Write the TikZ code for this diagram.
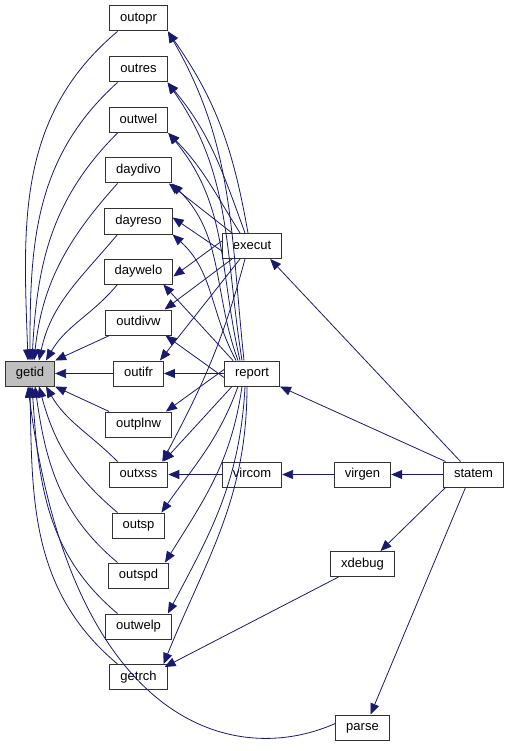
\documentclass[tikz,border=0pt]{standalone}
\usepackage{fontspec}
\setmainfont{Liberation Sans}
\usetikzlibrary{arrows.meta}
\definecolor{edgeblue}{HTML}{191970}

\begin{document}
\begin{tikzpicture}[x=1pt, y=-1pt,
    fn/.style={draw=black!80, line width=1pt, minimum height=25pt, inner xsep=10.5pt, text height=9.5pt, text depth=3pt, font=\fontsize{13}{15}\selectfont},
    call/.style={draw=edgeblue, line width=0.8pt, -{Triangle[length=11pt, width=9pt]}}]
    \useasboundingbox (0,0) rectangle (511,751);
    % Functions called by report
    \foreach \n/\y in {outopr/18.5, outres/69.5, outwel/120, daydivo/170.5, dayreso/221.5, daywelo/271.5, outdivw/322.5, outifr/373.5, outplnw/424.5, outxss/474.5, outsp/525.5, outspd/575.5, outwelp/626.5, getrch/677} {
        \node[fn] (\n) at (138.5,\y) {\n};
    }
    % Other functions
    \node[fn, fill=black!25] (getid) at (30,373.5) {getid};
    \node[fn] (execut) at (252,246) {execut};
    \node[fn] (report) at (252,373.5) {report};
    \node[fn] (vircom) at (252,474.5) {vircom};
    \node[fn] (virgen) at (362.5,474.5) {virgen};
    \node[fn] (statem) at (473.5,474.5) {statem};
    \node[fn] (xdebug) at (362.5,564) {xdebug};
    \node[fn] (parse) at (362.5,727.5) {parse};
    % Calls into getid
    \foreach \n/\dx/\o/\i in {outopr/-2/-140/92, outres/0/-138/90, outwel/2/-135/87, daydivo/4/-132/84, dayreso/9/-130/78, daywelo/16/-130/60} {
        \draw[call] ([xshift=-21pt]\n.south) to[out=\o, in=\i] ([xshift=\dx]getid.north);
    }
    \draw[call] ([xshift=4pt]outdivw.south west) -- (getid.north east);
    \draw[call] (outifr) -- (getid);
    \draw[call] ([xshift=4pt]outplnw.north west) -- (getid.south east);
    \foreach \n/\dx/\o/\i in {outxss/16/135/-60, outsp/9/140/-75, outspd/5/140/-82, outwelp/2/140/-86, getrch/0/140/-89} {
        \draw[call] ([xshift=-21pt]\n.north) to[out=\o, in=\i] ([xshift=\dx]getid.south);
    }
    \draw[call] ([yshift=4pt]parse.west) .. controls (230,770) and (70,720) .. ([xshift=-2pt]getid.south);
    % Calls from execut
    \foreach \n/\dx/\o/\i in {outopr/-4/100/-55, outres/-7/110/-50, outwel/-12/122/-45} {
        \draw[call] ([xshift=\dx]execut.north) to[out=\o, in=\i] (\n.south east);
    }
    \draw[call] ([xshift=-20pt]execut.north) -- ([xshift=-3pt]daydivo.south east);
    \draw[call] ([yshift=-5pt]execut.west) -- ([yshift=4pt]dayreso.east);
    \draw[call] ([yshift=5pt]execut.west) -- ([yshift=-5pt]daywelo.east);
    \draw[call] ([xshift=-20pt]execut.south) -- ([xshift=-7pt]outdivw.north east);
    \draw[call] ([xshift=-12pt]execut.south) -- ([xshift=-4pt]outifr.north east);
    \draw[call] ([xshift=-7pt]execut.south) to[out=-105, in=62] ([xshift=-6pt]outxss.north east);
    % Calls from report
    \foreach \n/\dx/\o/\i in {outopr/-8/96/-60, outres/-10/99/-55, outwel/-12/103/-50, daydivo/-14/110/-45, dayreso/-16/118/-42} {
        \draw[call] ([xshift=\dx]report.north) to[out=\o, in=\i] (\n.south east);
    }
    \draw[call] ([xshift=-19pt]report.north) -- ([xshift=-10pt]daywelo.south east);
    \draw[call] ([yshift=-4pt]report.west) -- ([xshift=-6pt]outdivw.south east);
    \draw[call] (report) -- (outifr);
    \draw[call] ([yshift=4pt]report.west) -- ([xshift=-6pt]outplnw.north east);
    \draw[call] ([xshift=-20pt]report.south) -- ([xshift=-5pt]outxss.north east);
    \foreach \n/\dx/\o/\i in {outsp/-14/-110/55, outspd/-10/-98/58, outwelp/-7/-93/62, getrch/-5/-90/68} {
        \draw[call] ([xshift=\dx]report.south) to[out=\o, in=\i] ([xshift=-4pt]\n.north east);
    }
    % Other calls
    \draw[call] (vircom) -- (outxss);
    \draw[call] (virgen) -- (vircom);
    \draw[call] (statem) -- (virgen);
    \draw[call] ([xshift=-13pt]statem.north) -- ([xshift=-12pt]execut.south east);
    \draw[call] ([xshift=-28pt]statem.north) -- (report.south east);
    \draw[call] ([xshift=-28pt]statem.south) -- ([xshift=18pt]xdebug.north);
    \draw[call] ([xshift=-8pt]statem.south) -- ([xshift=8pt]parse.north);
    \draw[call] ([xshift=-24pt]xdebug.south) -- ([yshift=-3pt,xshift=-3pt]getrch.north east);
\end{tikzpicture}
\end{document}
